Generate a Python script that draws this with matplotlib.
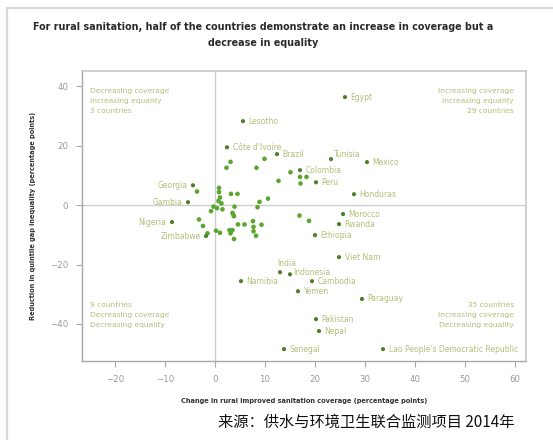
import matplotlib
matplotlib.use("Agg")
import matplotlib.pyplot as plt
from matplotlib.patches import Rectangle

# ---------------- data ----------------
countries = ["Egypt", "Lesotho", "Côte d'Ivoire", "Brazil", "Tunisia", "Mexico",
             "Colombia", "Peru", "Honduras", "Morocco", "Rwanda", "Ethiopia",
             "Viet Nam", "India", "Indonesia", "Namibia", "Cambodia", "Yemen",
             "Paraguay", "Pakistan", "Nepal", "Senegal",
             "Lao People's Democratic Republic", "Georgia", "Gambia", "Nigeria",
             "Zimbabwe"]
coverage_change = [26.0, 5.6, 2.4, 12.4, 23.2, 30.4, 17.0, 20.2, 27.8, 25.6, 24.8,
                   20.0, 24.8, 13.0, 15.0, 5.2, 19.4, 16.6, 29.4, 20.2, 20.8, 13.8,
                   33.6, -4.4, -5.4, -8.6, -1.8]
equality_change = [36.4, 28.3, 19.5, 17.2, 15.5, 14.5, 11.8, 7.7, 3.7, -3.0, -6.4,
                   -10.1, -17.5, -22.6, -23.3, -25.6, -25.6, -29.0, -31.6, -38.4,
                   -42.4, -48.5, -48.5, 6.7, 1.0, -5.7, -10.4]

other_coverage = [3.1, 2.3, 8.3, 9.9, 15.1, 12.7, 17.0, 18.3, 17.1, 0.8, 0.8, 3.2,
                  4.5, 1.0, 0.7, 1.3, 8.9, 10.6, -3.6, -0.3, 1.5, 3.9, 8.5, -3.2,
                  3.5, 3.7, 3.8, 4.6, 5.9, 7.6, 7.7, 7.7, 9.3, 8.2, 0.2, 1.0, 2.9,
                  3.3, 3.5, 3.1, 3.8, 16.9, 18.8, -1.5, -0.8, -2.4, 0.4]
other_equality = [14.6, 12.6, 12.6, 15.6, 11.1, 8.2, 9.5, 9.5, 7.3, 5.8, 4.4, 3.8,
                  3.8, 2.6, 1.4, 0.6, 1.1, 2.2, 4.6, -0.5, -1.4, -0.5, -0.7, -4.8,
                  -2.6, -3.4, -3.7, -6.5, -6.5, -5.4, -7.3, -8.8, -6.6, -10.3, -8.6,
                  -9.3, -8.4, -8.6, -8.4, -9.5, -11.4, -3.5, -5.3, -9.5, -2.0, -7.0,
                  -1.0]

quadrant_texts = ["Decreasing coverage\nIncreasing equality\n3 countries",
                  "Increasing coverage\nIncreasing equality\n29 countries",
                  "9 countries\nDecreasing coverage\nDecreasing equality",
                  "35 countries\nIncreasing coverage\nDecreasing equality"]

x_ticks = [-20, -10, 0, 10, 20, 30, 40, 50, 60]
y_ticks = [-40, -20, 0, 20, 40]

title = "For rural sanitation, half of the countries demonstrate an increase in coverage but a\ndecrease in equality"
x_label = "Change in rural improved sanitation coverage (percentage points)"
y_label = "Reduction in quintile gap inequality (percentage points)"
source = "来源：供水与环境卫生联合监测项目 2014年"

# label placement (style only)
left_labels = {"Georgia", "Gambia", "Nigeria", "Zimbabwe"}
special_offsets = {"Tunisia": (2, 3), "India": (-2, 6), "Indonesia": (2, 1)}

# ---------------- figure ----------------
W, H = 553, 440
fig = plt.figure(figsize=(W / 100, H / 100), dpi=100)
fig.patch.set_facecolor("white")

# outer light frame
fig.patches.append(Rectangle((7 / W, -0.05), 1.2, 1 - 8 / H + 0.05,
                             transform=fig.transFigure, fill=False,
                             edgecolor="#d9d9d9", linewidth=1.6))

ax = fig.add_axes([82 / W, 1 - 361 / H, (526 - 82) / W, (361 - 71) / H])
ax.set_xlim(-26.6, 62.2)
ax.set_ylim(-52.5, 45.2)

label_col = "#b4bf78"
ax.axvline(0, color="#cfcfcf", lw=1.0, zorder=1)
ax.axhline(0, color="#cfcfcf", lw=1.0, zorder=1)

ax.scatter(other_coverage, other_equality, s=11, color="#5aa62e",
           edgecolors="none", zorder=3)
ax.scatter(coverage_change, equality_change, s=9, color="#4f7f2a",
           edgecolors="none", zorder=4)

for name, xv, yv in zip(countries, coverage_change, equality_change):
    if name in left_labels:
        off, ha = (-4, 0), "right"
    else:
        off, ha = special_offsets.get(name, (4, 0)), "left"
    ax.annotate(name, (xv, yv), xytext=off, textcoords="offset points",
                ha=ha, va="center", fontsize=5.5, color=label_col, zorder=5)

qx = [-25.0, 59.8, -25.0, 59.8]
qy = [39.6, 39.6, -32.6, -32.6]
qha = ["left", "right", "left", "right"]
for t, xv, yv, ha in zip(quadrant_texts, qx, qy, qha):
    ax.text(xv, yv, t, ha=ha, va="top", fontsize=5.4, color=label_col,
            linespacing=1.8, multialignment=ha)

for side in ["left", "bottom"]:
    ax.spines[side].set_color("#a8a8a8")
    ax.spines[side].set_linewidth(1.0)
for side in ["top", "right"]:
    ax.spines[side].set_color("#c8c8c8")
    ax.spines[side].set_linewidth(1.2)

ax.set_xticks(x_ticks)
ax.set_yticks(y_ticks)
ax.tick_params(axis="both", direction="out", length=4, width=0.8,
               color="#a8a8a8", labelcolor="#9a9a9a", labelsize=6.2, pad=6)

ax.set_xlabel(x_label, fontsize=4.8, fontweight="bold", color="#333333",
              labelpad=10)
ax.set_ylabel(y_label, fontsize=4.8, fontweight="bold", color="#333333",
              labelpad=10)

fig.text(263 / W, 1 - 22 / H, title, ha="center", va="top", fontsize=6.9,
         fontweight="bold", color="#2a2a2a", linespacing=1.7)

fig.text(515 / W, 1 - 422 / H, source, ha="right", va="center", fontsize=11,
         color="#111111", family=["Noto Sans CJK SC", "DejaVu Sans"])

fig.savefig("out.png", dpi=100, facecolor="white")
